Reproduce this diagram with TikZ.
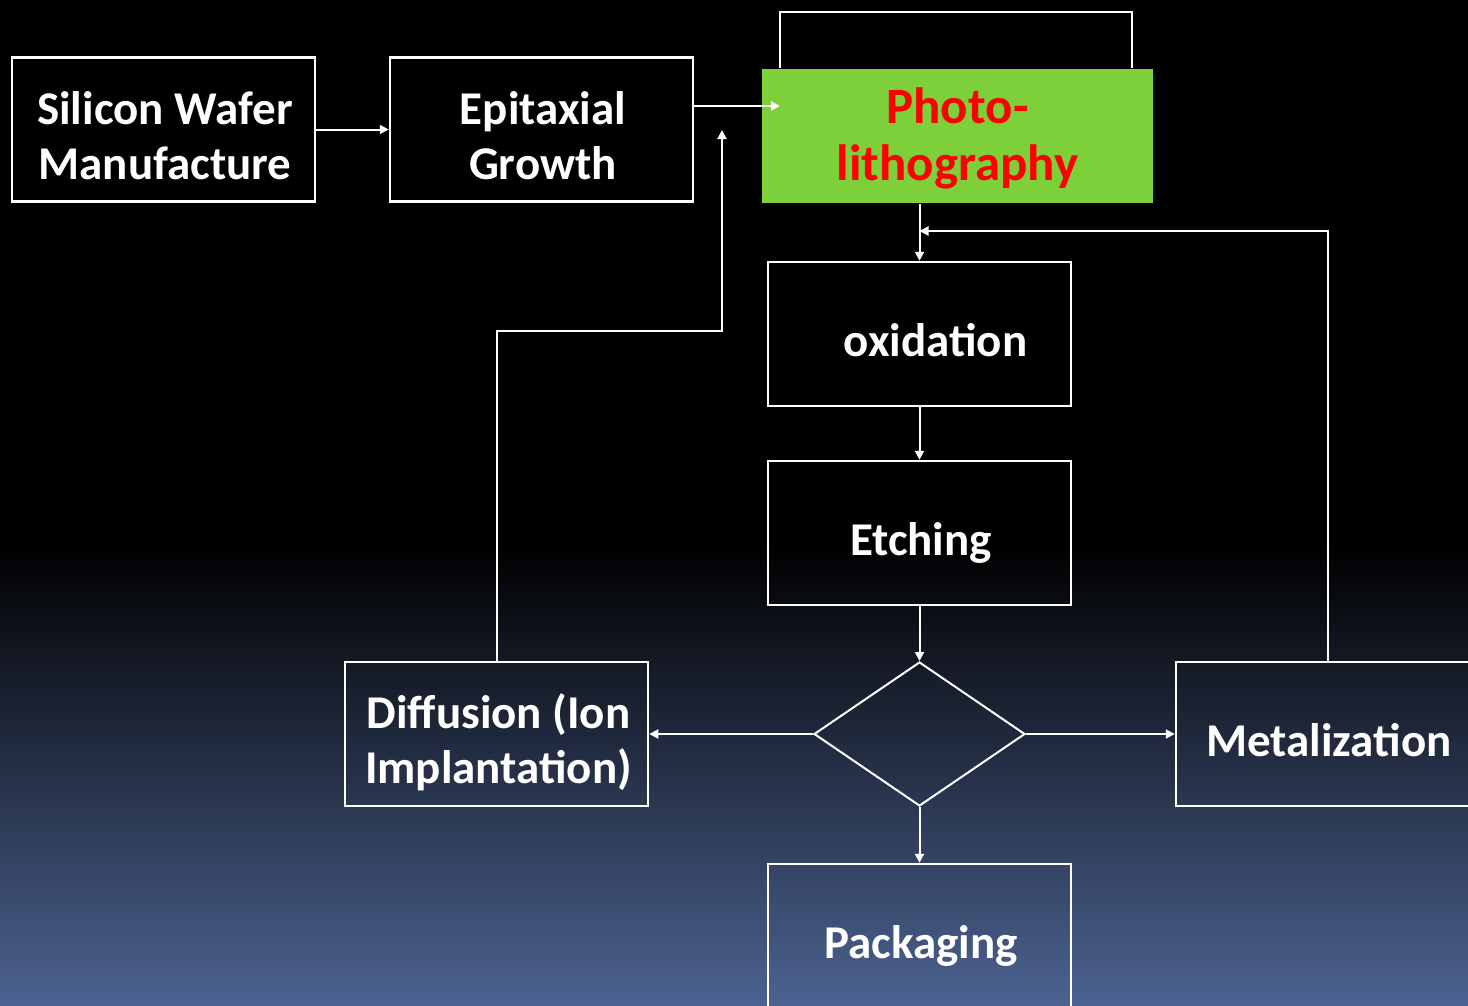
\documentclass[tikz,border=0pt]{standalone}
\usepackage{fontspec}
\setmainfont{Carlito}
\usetikzlibrary{shapes.geometric, arrows.meta}
\definecolor{photogreen}{RGB}{126,208,59}
\definecolor{slidebottom}{RGB}{76,98,144}
\tikzset{
	stepbox/.style={draw=white, line width=2.5pt, text=white,
		minimum width=303, minimum height=144, align=center, inner sep=3pt,
		text height=54pt, text depth=10pt,
		font=\fontsize{47}{55}\selectfont\bfseries},
	twoline/.style={text height=109pt},
	flow/.style={draw=white, line width=2pt, -{Triangle[length=9pt,width=9pt]}},
	wire/.style={draw=white, line width=2pt},
}

\begin{document}
\begin{tikzpicture}[x=1pt, y=-1pt]
		\useasboundingbox (0,0) rectangle (1468,1005);
		\clip (0,0) rectangle (1468,1005);
		% slide background
		\fill[black] (0,0) rectangle (1468,1005);
		\shade[top color=black, bottom color=slidebottom] (0,545) rectangle (1468,1005);
		
		\node[stepbox, twoline] (silicon) at (163.5,129.5) {\hspace*{3pt}Silicon Wafer\\\hspace*{3pt}Manufacture};
		\node[stepbox, twoline] (epitaxial) at (541.5,129.5) {\hspace*{3pt}Epitaxial\\\hspace*{3pt}Growth};
		\node[stepbox, draw=none, fill=photogreen, text=red, inner sep=0pt,
			minimum width=391, minimum height=134, text height=111pt, text depth=23pt,
			font=\fontsize{51}{57}\selectfont\bfseries] (photo) at (957.5,136) {Photo-\\lithography};
		\node[stepbox] (oxidation) at (919.5,334) {\hspace*{32pt}oxidation};
		\node[stepbox] (etching) at (919.5,533) {\hspace*{3pt}Etching};
		\node[diamond, draw=white, line width=2pt, inner sep=0pt,
			minimum width=211, minimum height=144] (decide) at (919.5,734) {};
		\node[stepbox, twoline] (diffusion) at (496.5,734) {\hspace*{4pt}Diffusion (Ion\\\hspace*{4pt}Implantation)};
		\node[stepbox] (metal) at (1327.5,734) {\hspace*{3pt}Metalization};
		\node[stepbox] (packaging) at (919.5,936) {\hspace*{3pt}Packaging};
		
		\coordinate (p-in) at (780,106);
		\coordinate (loop) at (1132,12);
		\coordinate (d-bend) at (722,331);
		\coordinate (d-up) at (722,130);
		\coordinate (m-in) at (919.5,231);
		
		\draw[flow] (silicon) -- (epitaxial);
		\draw[flow] (epitaxial.east |- p-in) -- (p-in);
		\draw[wire] (photo.north -| p-in) |- (loop) -- (loop |- photo.north);
		\draw[flow] (oxidation.north |- photo.south) -- (oxidation.north);
		\draw[flow] (metal.north) |- (m-in);
		\draw[flow] (diffusion.north) |- (d-bend) -- (d-up);
		\draw[flow] (oxidation) -- (etching);
		\draw[flow] (etching) -- (decide);
		\draw[flow] (decide) -- (diffusion);
		\draw[flow] (decide) -- (metal);
		\draw[flow] (decide) -- (packaging);
	\end{tikzpicture}
\end{document}
